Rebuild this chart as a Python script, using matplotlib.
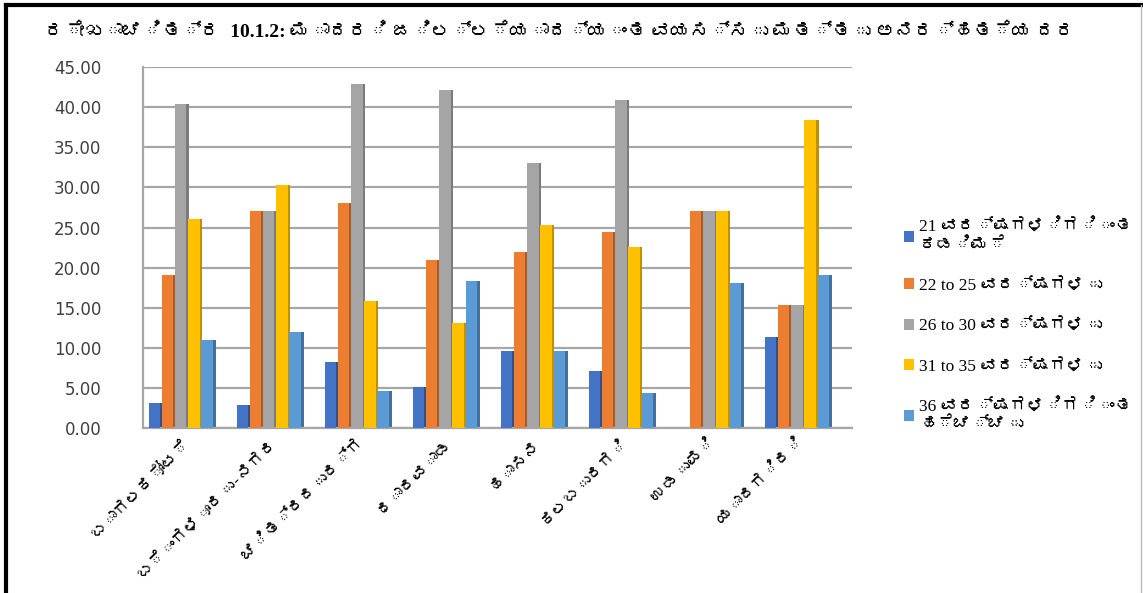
import numpy as np
import matplotlib
matplotlib.use("Agg")
import matplotlib.pyplot as plt
from matplotlib import font_manager
from matplotlib.ft2font import FT2Font
from matplotlib.patches import Patch

title = "ರೇಖಾಚಿತ್ರ  10.1.2: ಮಾದರಿ ಜಿಲ್ಲೆಯಾದ್ಯಂತ ವಯಸ್ಸು ಮತ್ತು ಅನರ್ಹತೆಯ ದರ"
districts = ["ಬಾಗಲಕೋಟೆ", "ಬೆಂಗಳೂರು-ನಗರ", "ಚಿತ್ರದುರ್ಗ", "ಧಾರವಾಡ",
             "ಹಾಸನ", "ಕಲಬುರಗಿ", "ಉಡುಪಿ", "ಯಾದಗಿರಿ"]
series_names = ["21 ವರ್ಷಗಳಿಗಿಂತ\nಕಡಿಮೆ", "22 to 25 ವರ್ಷಗಳು", "26 to 30 ವರ್ಷಗಳು",
                "31 to 35 ವರ್ಷಗಳು", "36 ವರ್ಷಗಳಿಗಿಂತ\nಹೆಚ್ಚು"]
under_21 = [3.1, 2.9, 8.3, 5.1, 9.6, 7.1, 0.0, 11.4]
age_22_25 = [19.1, 27.1, 28.0, 21.0, 21.9, 24.4, 27.1, 15.3]
age_26_30 = [40.4, 27.1, 42.9, 42.1, 33.1, 40.9, 27.1, 15.3]
age_31_35 = [26.1, 30.3, 15.8, 13.1, 25.3, 22.6, 27.1, 38.4]
over_36 = [11.0, 12.0, 4.6, 18.3, 9.6, 4.4, 18.1, 19.1]
yticks = [0, 5, 10, 15, 20, 25, 30, 35, 40, 45]

colors = ["#4472C4", "#ED7D31", "#A5A5A5", "#FFC000", "#5B9BD5"]
side_colors = ["#2F528F", "#AE5A21", "#7B7B7B", "#BF9000", "#41719C"]


def find_font(ch):
    for path in font_manager.findSystemFonts():
        try:
            if FT2Font(path).get_char_index(ord(ch)):
                return font_manager.FontProperties(fname=path).get_name()
        except Exception:
            pass
    return None


kn = find_font("ಕ")
sans = ([kn] if kn else []) + ["DejaVu Sans"]
serif = ["Liberation Serif"] + ([kn] if kn else []) + ["DejaVu Sans"]
plt.rcParams["font.family"] = sans

data = [under_21, age_22_25, age_26_30, age_31_35, over_36]

fig = plt.figure(figsize=(11.43, 5.93), dpi=100)
ax = fig.add_axes([0.125, 0.278, 0.62, 0.609])

x = np.arange(len(districts))
front = 0.13
side = 0.03
offsets = (np.arange(5) - 2) * (front + 0.02) - 0.01
for i, vals in enumerate(data):
    ax.bar(x + offsets[i], vals, width=front, color=colors[i], zorder=3)
    ax.bar(x + offsets[i] + front / 2 + side / 2, vals, width=side,
           color=side_colors[i], zorder=2)

ax.set_xlim(-0.44, len(districts) - 0.39)
ax.set_ylim(0, 45)
ax.set_yticks(yticks)
ax.set_yticklabels([f"{v:.2f}" for v in yticks], family=["DejaVu Sans"],
                   fontsize=12, color="#404040")
ax.yaxis.grid(True, color="#A6A6A6", linewidth=1.6, zorder=0)
ax.tick_params(axis="y", length=0, pad=30)
ax.tick_params(axis="x", length=0, pad=6)
ax.set_xticks(x)
ax.set_xticklabels(districts, rotation=45, ha="right", rotation_mode="anchor",
                   fontsize=12, fontweight="bold")
for s in ["top", "right"]:
    ax.spines[s].set_visible(False)
ax.spines["left"].set_color("#A6A6A6")
ax.spines["bottom"].set_color("#A6A6A6")
ax.spines["left"].set_linewidth(1.6)
ax.spines["bottom"].set_linewidth(1.6)

fig.text(0.49, 0.945, title, ha="center", va="center", fontsize=14,
         fontweight="bold", family=serif)

handles = [Patch(facecolor=c) for c in colors]
fig.legend(handles, series_names, loc="center left", bbox_to_anchor=(0.777, 0.45),
           frameon=False, prop={"family": serif, "size": 12.5},
           handlelength=0.6, handleheight=0.6, handletextpad=0.3, labelspacing=1.4)

# outer frame
fig.add_artist(plt.Line2D([0.005, 0.999], [0.991, 0.991], color="black", lw=3,
                          transform=fig.transFigure))
fig.add_artist(plt.Line2D([0.005, 0.005], [0.0, 0.991], color="black", lw=3,
                          transform=fig.transFigure))
fig.add_artist(plt.Line2D([0.9985, 0.9985], [0.0, 0.991], color="#BBBBBB", lw=1,
                          transform=fig.transFigure))

fig.savefig("out.png", dpi=100)
